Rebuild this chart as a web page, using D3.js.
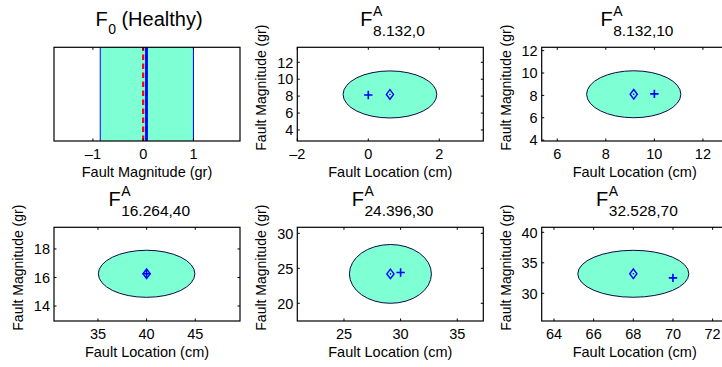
<!DOCTYPE html>
<html><head><meta charset="utf-8">
<script src="https://cdn.jsdelivr.net/npm/d3@7"></script>
<style>body{margin:0;background:#fff}svg{display:block}text{font-family:"Liberation Sans",Arial,Helvetica,sans-serif;fill:#000}</style>
</head><body><svg id="c" width="722" height="367"></svg>
<script>
// ---- data ----
const healthyXDomain = [-1.774, 1.926];
const healthyXTicks = [-1, 0, 1];
const healthyLimits = [-0.854, 1.0];
const healthyEstimate = 0.066;
const healthyTrue = 0;

const panelSubscripts = ["8.132,0", "8.132,10", "16.264,40", "24.396,30", "32.528,70"];
const trueLocation = [0, 10, 40, 30, 70];
const trueMagnitude = [8.132, 8.132, 16.264, 24.396, 32.528];
const estLocation = [0.61, 9.15, 40.0, 29.1, 68.0];
const estMagnitude = [8.2, 8.1, 16.26, 24.2, 33.2];
const ellipseHalfWidth = [1.32, 1.94, 4.96, 3.62, 2.8];
const ellipseHalfHeight = [2.78, 2.1, 1.65, 4.2, 3.85];
const xDomains = [[-2, 3.24], [5.36, 13.02], [30.48, 49.6], [20.88, 37.3], [63.38, 72.76]];
const yDomains = [[2.7, 13.77], [3.92, 12.3], [12.95, 19.52], [17.47, 30.86], [25.46, 40.82]];
const xTicks = [[-2, 0, 2], [6, 8, 10, 12], [35, 40, 45], [25, 30, 35], [64, 66, 68, 70, 72]];
const yTicks = [[4, 6, 8, 10, 12], [4, 6, 8, 10, 12], [14, 16, 18], [20, 25, 30], [30, 35, 40]];

// ---- layout ----
const colX = [54, 297.3, 541.7], rowY = [47.3, 227.3];
const AW = 186, AH = 93.7;
const FILL = "#7fffd4", BLUE = "#0000ff";
const TICKFS = 14.5, LABFS = 14.5, TFS = 20, SUBFS = 15.5, SUPFS = 14;
const svg = d3.select("#c");
const fmt = v => (v < 0 ? "\u2013" + Math.abs(v) : String(v));

function frame(g, x, y, xt, yt, showY) {
  const [x0, x1] = x.range(), [y1, y0] = y.range();
  const tl = 2.5;
  xt.forEach(t => {
    g.append("line").attr("x1", x(t)).attr("x2", x(t)).attr("y1", y1).attr("y2", y1 - tl).attr("stroke", "#000");
    g.append("line").attr("x1", x(t)).attr("x2", x(t)).attr("y1", y0).attr("y2", y0 + tl).attr("stroke", "#000");
    g.append("text").attr("x", x(t)).attr("y", y1 + 17.5).attr("text-anchor", "middle").attr("font-size", TICKFS).text(fmt(t));
  });
  yt.forEach(t => {
    g.append("line").attr("x1", x0).attr("x2", x0 + tl).attr("y1", y(t)).attr("y2", y(t)).attr("stroke", "#000");
    g.append("line").attr("x1", x1).attr("x2", x1 - tl).attr("y1", y(t)).attr("y2", y(t)).attr("stroke", "#000");
    if (showY) g.append("text").attr("x", x0 - 4).attr("y", y(t)).attr("dy", "0.36em").attr("text-anchor", "end").attr("font-size", TICKFS).text(fmt(t));
  });
  g.append("rect").attr("x", x0).attr("y", y0).attr("width", x1 - x0).attr("height", y1 - y0)
    .attr("fill", "none").attr("stroke", "#000").attr("stroke-width", 1.2);
}

function title(g, cx, baseY, sup, sub, rest) {
  const F = g.append("text").attr("y", baseY).attr("font-size", TFS).text("F");
  const fw = F.node().getComputedTextLength();
  let w = fw, parts = [];
  if (sup) { const s = g.append("text").attr("y", baseY - 10.3).attr("font-size", SUPFS).text(sup); parts.push(s); }
  const sb = g.append("text").attr("y", baseY + (sup ? 10 : 8.3)).attr("font-size", sup ? SUBFS : SUPFS).text(sub);
  parts.push(sb);
  let pw = d3.max(parts, p => p.node().getComputedTextLength());
  w += pw;
  let r = null, gap = 0;
  if (rest) { gap = 6; r = g.append("text").attr("y", baseY).attr("font-size", TFS).text(rest); w += gap + r.node().getComputedTextLength(); }
  const left = cx - w / 2 + 2;
  F.attr("x", left);
  parts.forEach(p => p.attr("x", left + fw + 0.5));
  if (r) r.attr("x", left + fw + pw + gap);
}

function xLabel(g, x, y1, txt) {
  const [x0, x1] = x.range();
  g.append("text").attr("x", (x0 + x1) / 2).attr("y", y1 + 35.7).attr("text-anchor", "middle").attr("font-size", LABFS).text(txt);
}
function yLabel(g, x, y, txt) {
  const x0 = x.range()[0];
  const [y1, y0] = y.range();
  const cy = (y0 + y1) / 2 - 6.5;
  g.append("text").attr("transform", `translate(${x0 - 31},${cy}) rotate(-90)`).attr("text-anchor", "middle").attr("font-size", LABFS - 0.5).text(txt);
}

// ---- healthy panel ----
{
  const g = svg.append("g");
  const x = d3.scaleLinear().domain(healthyXDomain).range([colX[0], colX[0] + AW]);
  const y = d3.scaleLinear().domain([0, 1]).range([rowY[0] + AH, rowY[0]]);
  g.append("rect").attr("x", x(healthyLimits[0])).attr("y", y(1)).attr("width", x(healthyLimits[1]) - x(healthyLimits[0]))
    .attr("height", y(0) - y(1)).attr("fill", FILL);
  healthyLimits.forEach(v => g.append("line").attr("x1", x(v)).attr("x2", x(v)).attr("y1", y(0)).attr("y2", y(1)).attr("stroke", BLUE).attr("stroke-width", 1));
  g.append("line").attr("x1", x(healthyEstimate)).attr("x2", x(healthyEstimate)).attr("y1", y(0)).attr("y2", y(1)).attr("stroke", BLUE).attr("stroke-width", 2.8);
  g.append("line").attr("x1", x(healthyTrue)).attr("x2", x(healthyTrue)).attr("y1", y(0)).attr("y2", y(1)).attr("stroke", "#ff0000").attr("stroke-width", 2.2).attr("stroke-dasharray", "5.5,3.5");
  frame(g, x, y, healthyXTicks, [], false);
  xLabel(g, x, y(0), "Fault Magnitude (gr)");
  title(g, (x.range()[0] + x.range()[1]) / 2, rowY[0] - 21.3, null, "0", "(Healthy)");
}

// ---- fault panels ----
panelSubscripts.forEach((sub, i) => {
  const k = i + 1, col = k % 3, row = Math.floor(k / 3);
  const g = svg.append("g");
  const x = d3.scaleLinear().domain(xDomains[i]).range([colX[col], colX[col] + AW]);
  const y = d3.scaleLinear().domain(yDomains[i]).range([rowY[row] + AH, rowY[row]]);
  g.append("ellipse").attr("cx", x(estLocation[i])).attr("cy", y(estMagnitude[i]))
    .attr("rx", x(estLocation[i] + ellipseHalfWidth[i]) - x(estLocation[i]))
    .attr("ry", y(estMagnitude[i]) - y(estMagnitude[i] + ellipseHalfHeight[i]))
    .attr("fill", FILL).attr("stroke", "#0a0a45").attr("stroke-width", 1);
  // true fault (+)
  const px = x(trueLocation[i]), py = y(trueMagnitude[i]);
  g.append("path").attr("d", `M${px - 4.2},${py}H${px + 4.2}M${px},${py - 4.2}V${py + 4.2}`).attr("stroke", BLUE).attr("stroke-width", 1.6).attr("fill", "none");
  // estimate (diamond)
  const dx = x(estLocation[i]), dy = y(estMagnitude[i]);
  g.append("path").attr("d", `M${dx},${dy - 4.8}L${dx + 3.6},${dy}L${dx},${dy + 4.8}L${dx - 3.6},${dy}Z`).attr("stroke", BLUE).attr("stroke-width", 1.4).attr("fill", "none");
  g.append("circle").attr("cx", dx).attr("cy", dy).attr("r", 0.8).attr("fill", BLUE);
  frame(g, x, y, xTicks[i], yTicks[i], true);
  xLabel(g, x, y.range()[0], "Fault Location (cm)");
  yLabel(g, x, y, "Fault Magnitude (gr)");
  title(g, (x.range()[0] + x.range()[1]) / 2, rowY[row] - 21.3, "A", sub, null);
});
</script></body></html>
